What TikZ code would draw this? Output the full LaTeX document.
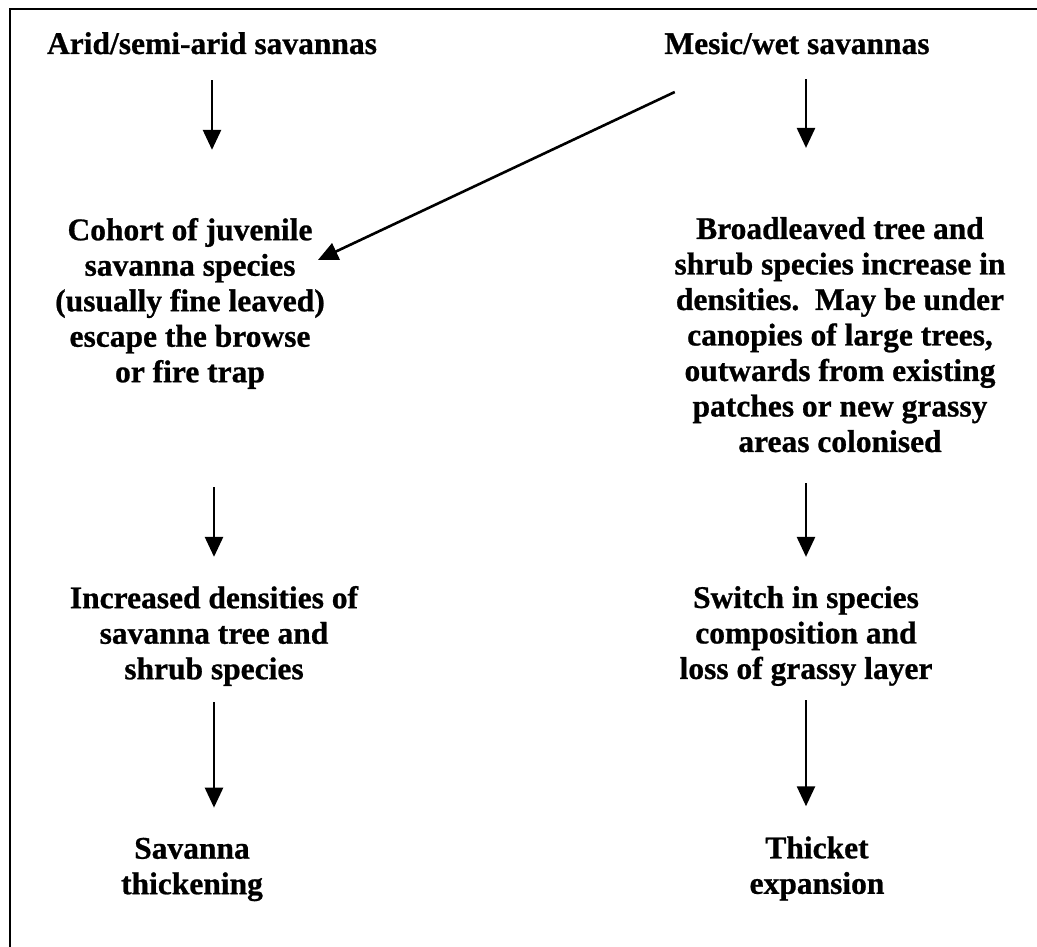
\documentclass[tikz,border=0pt]{standalone}
\usepackage{fontspec}
\setmainfont{Liberation Serif}[BoldFeatures={FakeBold=0.8}]
\usetikzlibrary{arrows.meta}

\begin{document}
\begin{tikzpicture}[x=1pt,y=-1pt]

  % Definitions
  \tikzstyle{Label} = [align=center, inner sep=0pt, font=\fontsize{31.5}{35.5}\selectfont\bfseries]
  \tikzstyle{arrow} = [line width=2.6pt,-{Triangle[length=20pt,width=18pt]}]

  \useasboundingbox (0,0) rectangle (1037,947);
  \draw [line width=2pt] (10,9) rectangle (1080,990);

  \node (Arid) [Label, anchor=base] at (212,54) {Arid/semi-arid savannas};
  \node (Mesic) [Label, anchor=base] at (797,54) {Mesic/wet savannas};

  \node (Cohort) [Label] at (190,303.5) {Cohort of juvenile\\savanna species\\(usually fine leaved)\\escape the browse\\or fire trap};
  \node (Broad) [Label] at (840,334.7) {Broadleaved tree and\\shrub species increase in\\densities.\ \ May be under\\canopies of large trees,\\outwards from existing\\patches or new grassy\\areas colonised};

  \node (Incr) [Label] at (214,636) {Increased densities of\\savanna tree and\\shrub species};
  \node (Switch) [Label] at (806,636) {Switch in species\\composition and\\loss of grassy layer};

  \node (Thick) [Label] at (192,869.5) {Savanna\\thickening};
  \node (Thicket) [Label] at (817,868.5) {Thicket\\expansion};

  \draw [arrow, shorten <=25.5pt, shorten >=68pt] (Arid.south) -- (Arid.south |- Cohort.north);
  \draw [arrow, shorten <=24.5pt, shorten >=69pt] (Switch.north |- Mesic.south) -- (Switch.north |- Broad.north);
  \draw [arrow] ([xshift=10.5pt,yshift=-37.5pt]Mesic.south west) -- ([xshift=-7pt,yshift=43.5pt]Cohort.east);

  \draw [arrow, shorten <=98pt, shorten >=29pt] (Incr.north |- Cohort.south) -- (Incr.north);
  \draw [arrow, shorten <=31pt, shorten >=29pt] (Switch.north |- Broad.south) -- (Switch.north);

  \draw [arrow, shorten <=16pt, shorten >=30pt] (Incr.south) -- (Incr.south |- Thick.north);
  \draw [arrow, shorten <=14pt, shorten >=30pt] (Switch.south) -- (Switch.south |- Thicket.north);

\end{tikzpicture}
\end{document}
